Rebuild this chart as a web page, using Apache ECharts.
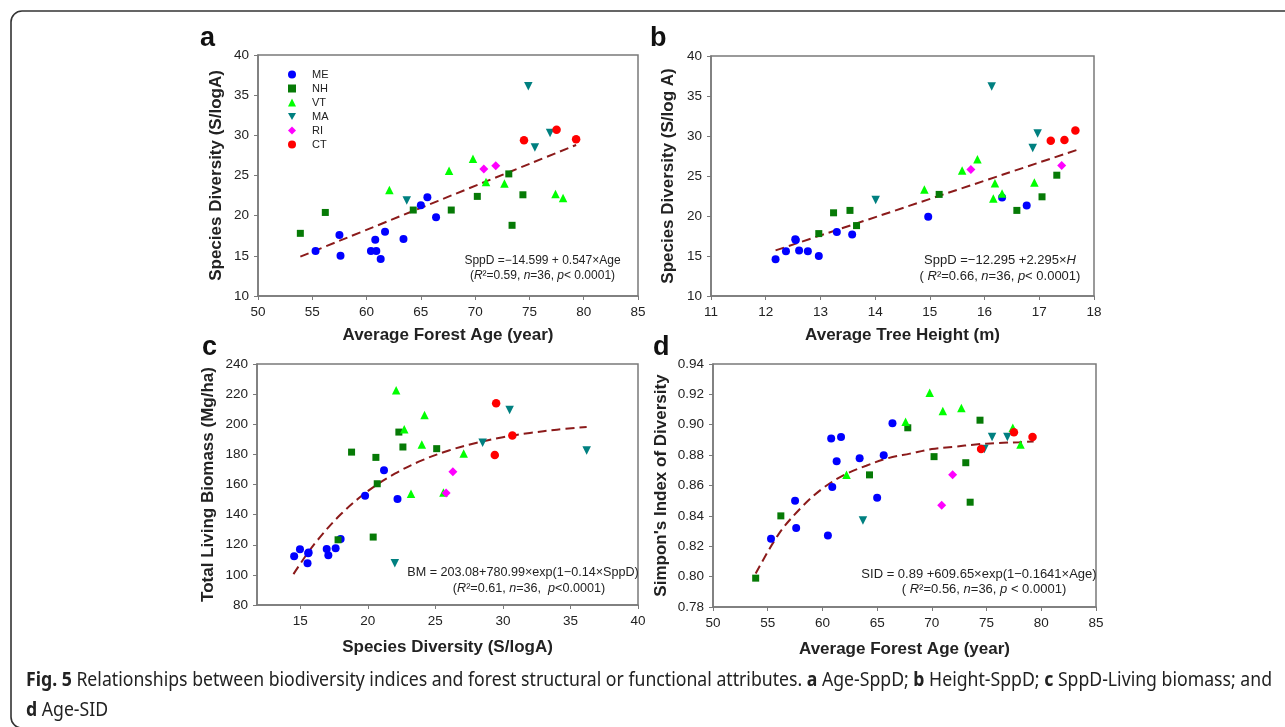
<!DOCTYPE html>
<html><head><meta charset="utf-8">
<script src="https://cdn.jsdelivr.net/npm/echarts@6/dist/echarts.min.js"></script>
<style>html,body{margin:0;padding:0;background:#fff;} #c{width:1285px;height:727px;}</style>
</head><body><div id="c"></div>
<script>
// ---------- categories ----------
const STATES = ['ME', 'NH', 'VT', 'MA', 'RI', 'CT'];

// ---------- panel a: average forest age (x) vs species diversity SppD (y) ----------
const aME = [[55.3,15.6],[57.5,17.6],[57.6,15.0],[60.4,15.6],[60.9,15.6],[60.8,17.0],[61.3,14.6],[61.7,18.0],[63.4,17.1],[65.0,21.3],[65.6,22.3],[66.4,19.8]];
const aNH = [[53.9,17.8],[56.2,20.4],[64.3,20.7],[67.8,20.7],[70.2,22.4],[73.1,25.2],[73.4,18.8],[74.4,22.6]];
const aVT = [[62.1,23.2],[67.6,25.6],[69.8,27.1],[71.0,24.2],[72.7,24.0],[77.4,22.7],[78.1,22.2]];
const aMA = [[63.7,21.9],[74.9,36.1],[75.5,28.5],[76.9,30.3]];
const aRI = [[70.8,25.8],[71.9,26.2]];
const aCT = [[74.5,29.4],[77.5,30.7],[79.3,29.5]];
const aFit = [[53.9,14.9],[79.3,28.8]];

// ---------- panel b: average tree height (x) vs SppD (y) ----------
const bME = [[12.18,14.6],[12.37,15.6],[12.54,17.1],[12.55,17.0],[12.61,15.7],[12.77,15.6],[12.97,15.0],[13.3,18.0],[13.58,17.7],[14.97,19.9],[16.32,22.3],[16.77,21.3]];
const bNH = [[12.97,17.8],[13.24,20.4],[13.54,20.7],[13.66,18.8],[15.17,22.7],[16.59,20.7],[17.05,22.4],[17.32,25.1]];
const bVT = [[14.9,23.3],[15.59,25.7],[15.87,27.1],[16.16,22.2],[16.19,24.1],[16.32,22.8],[16.91,24.2]];
const bMA = [[14.01,22.0],[16.13,36.2],[16.88,28.5],[16.97,30.3]];
const bRI = [[15.75,25.8],[17.41,26.3]];
const bCT = [[17.21,29.4],[17.46,29.5],[17.66,30.7]];
const bFit = [[12.18,15.7],[17.75,28.4]];

// ---------- panel c: SppD (x) vs total living biomass (y) ----------
const cME = [[14.55,112.3],[14.98,117.0],[15.59,114.3],[15.62,114.8],[15.54,107.7],[16.96,117.2],[17.08,113.0],[17.62,117.6],[17.99,123.8],[19.8,152.6],[21.2,169.4],[22.2,150.4]];
const cNH = [[17.8,123.3],[18.8,181.5],[20.4,125.1],[20.6,178.0],[20.7,160.5],[22.3,194.8],[22.6,184.9],[25.1,183.8]];
const cVT = [[22.1,222.5],[22.7,196.6],[23.2,153.9],[24.0,186.6],[24.2,206.1],[25.6,154.7],[27.1,180.5]];
const cMA = [[22.0,107.7],[28.5,187.8],[30.5,209.5],[36.2,182.5]];
const cRI = [[25.8,154.3],[26.3,168.5]];
const cCT = [[29.5,213.9],[29.4,179.6],[30.7,192.6]];
const cFit = [[14.5,100.5],[16,119.9],[18,140.2],[20,155.6],[22,167.2],[24,176.0],[26,182.6],[28,187.6],[30,191.4],[32,194.2],[34,196.4],[36.2,198.2]];

// ---------- panel d: average forest age (x) vs Simpson's index (y) ----------
const dME = [[55.3,0.825],[57.5,0.850],[57.6,0.832],[60.5,0.827],[60.8,0.891],[60.9,0.859],[61.3,0.876],[61.7,0.892],[63.4,0.878],[65.0,0.852],[65.6,0.880],[66.4,0.901]];
const dNH = [[53.9,0.799],[56.2,0.840],[64.3,0.867],[67.8,0.898],[70.2,0.879],[73.1,0.875],[73.5,0.849],[74.4,0.903]];
const dVT = [[62.2,0.867],[67.6,0.902],[69.8,0.921],[71.0,0.909],[72.7,0.911],[77.4,0.898],[78.1,0.887]];
const dMA = [[63.7,0.837],[74.8,0.884],[75.5,0.892],[76.9,0.892]];
const dRI = [[70.9,0.847],[71.9,0.867]];
const dCT = [[74.5,0.884],[77.5,0.895],[79.2,0.892]];
const dFit = [[53.9,0.802],[56,0.828],[58,0.845],[60,0.858],[62,0.867],[64,0.873],[66,0.878],[68,0.881],[70,0.884],[72,0.8855],[74,0.887],[76,0.888],[78,0.8885],[79.3,0.889]];

// ---------- tick labels (panel c x) ----------
const cXTicks = [15, 20, 25, 30, 35, 40];

// ---------- texts ----------
const TITLES = {
  ax: 'Average Forest Age (year)', ay: 'Species Diversity (S/logA)',
  bx: 'Average Tree Height (m)', by: 'Species Diversity (S/log A)',
  cx: 'Species Diversity (S/logA)', cy: 'Total Living Biomass (Mg/ha)',
  dx: 'Average Forest Age (year)', dy: "Simpon's Index of Diversity"
};
const EQ = {
  a1: 'SppD =\u221214.599 + 0.547\u00d7Age', a2: '({i|R}\u00b2=0.59, {i|n}=36, {i|p}< 0.0001)',
  b1: 'SppD =\u221212.295 +2.295\u00d7{i|H}', b2: '( {i|R}\u00b2=0.66, {i|n}=36, {i|p}< 0.0001)',
  c1: 'BM = 203.08+780.99\u00d7exp(1\u22120.14\u00d7SppD)', c2: '({i|R}\u00b2=0.61, {i|n}=36,  {i|p}<0.0001)',
  d1: 'SID = 0.89 +609.65\u00d7exp(1\u22120.1641\u00d7Age)', d2: '( {i|R}\u00b2=0.56, {i|n}=36, {i|p} < 0.0001)'
};
const CAP1 = [['b','Fig. 5'],['r',' Relationships between biodiversity indices and forest structural or functional attributes. '],['b','a'],['r',' Age-SppD; '],['b','b'],['r',' Height-SppD; '],['b','c'],['r',' SppD-Living biomass; and']];
const CAP2 = [['b','d'],['r',' Age-SID']];

// ---------- styles ----------
const FONT = '"Liberation Sans", Arial, sans-serif';
const CAPF = '"Noto Sans", sans-serif';
const CAPSIZE = 20;
const AXC = '#7a7a7a';
const STYLE = {
  ME: {symbol:'circle', color:'#0000ff', size:8, rot:0},
  NH: {symbol:'rect', color:'#067a06', size:7, rot:0},
  VT: {symbol:'triangle', color:'#00ff00', size:8.5, rot:0},
  MA: {symbol:'triangle', color:'#008080', size:8.5, rot:180},
  RI: {symbol:'diamond', color:'#ff00ff', size:9, rot:0},
  CT: {symbol:'circle', color:'#ff0000', size:8.5, rot:0}
};
const PANEL_DATA = [
  {ME:aME, NH:aNH, VT:aVT, MA:aMA, RI:aRI, CT:aCT, fit:aFit},
  {ME:bME, NH:bNH, VT:bVT, MA:bMA, RI:bRI, CT:bCT, fit:bFit},
  {ME:cME, NH:cNH, VT:cVT, MA:cMA, RI:cRI, CT:cCT, fit:cFit},
  {ME:dME, NH:dNH, VT:dVT, MA:dMA, RI:dRI, CT:dCT, fit:dFit}
];

function axisBase(extra) {
  return Object.assign({
    type: 'value',
    axisLine: {show: true, onZero: false, lineStyle: {color: AXC, width: 1.5}},
    axisTick: {show: true, inside: false, length: 4, lineStyle: {color: AXC, width: 1}},
    axisLabel: {color: '#222', fontSize: 13.5, fontFamily: FONT, margin: 9, showMinLabel: true, showMaxLabel: true},
    splitLine: {show: false},
    nameLocation: 'middle',
    nameTextStyle: {fontWeight: 'bold', fontSize: 17, fontFamily: FONT, color: '#222'}
  }, extra);
}

const grids = [
  {left: 258, top: 55, width: 380, height: 241},
  {left: 711, top: 56, width: 383, height: 240},
  {left: 257, top: 364, width: 381, height: 241},
  {left: 713, top: 364, width: 383, height: 243}
].map(g => Object.assign({show: true, borderColor: AXC, borderWidth: 1.5, backgroundColor: 'transparent'}, g));

const xAxes = [
  axisBase({gridIndex: 0, min: 50, max: 85, interval: 5, name: TITLES.ax, nameGap: 31}),
  axisBase({gridIndex: 1, min: 11, max: 18, interval: 1, name: TITLES.bx, nameGap: 31}),
  axisBase({gridIndex: 2, min: 11.8, max: 40, name: TITLES.cx, nameGap: 34,
    axisLabel: {color: '#222', fontSize: 13.5, fontFamily: FONT, margin: 9, customValues: cXTicks},
    axisTick: {show: true, inside: false, length: 4, lineStyle: {color: AXC, width: 1}, customValues: cXTicks}}),
  axisBase({gridIndex: 3, min: 50, max: 85, interval: 5, name: TITLES.dx, nameGap: 34})
];
const yAxes = [
  axisBase({gridIndex: 0, min: 10, max: 40, interval: 5, name: TITLES.ay, nameGap: 33}),
  axisBase({gridIndex: 1, min: 10, max: 40, interval: 5, name: TITLES.by, nameGap: 34}),
  axisBase({gridIndex: 2, min: 80, max: 240, interval: 20, name: TITLES.cy, nameGap: 40}),
  axisBase({gridIndex: 3, min: 0.78, max: 0.94, interval: 0.02, name: TITLES.dy, nameGap: 43,
    axisLabel: {color: '#222', fontSize: 13.5, fontFamily: FONT, margin: 9, showMinLabel: true, showMaxLabel: true,
      formatter: v => v.toFixed(2)}})
];

const series = [];
PANEL_DATA.forEach((p, gi) => {
  series.push({
    type: 'line', xAxisIndex: gi, yAxisIndex: gi, data: p.fit, smooth: 0.35,
    showSymbol: false, symbol: 'none', silent: true, z: 2,
    lineStyle: {color: '#8b1a1a', width: 2, type: [9, 5]}
  });
  STATES.forEach(s => {
    const st = STYLE[s];
    series.push({
      type: 'scatter', name: s, xAxisIndex: gi, yAxisIndex: gi, data: p[s],
      symbol: st.symbol, symbolSize: st.size, symbolRotate: st.rot, z: 3,
      itemStyle: {color: st.color, opacity: 1}
    });
  });
});

// caption scale computed from text measurement so the first line spans the same width as the reference
function measure(parts) {
  const ctx = document.createElement('canvas').getContext('2d');
  let w = 0;
  parts.forEach(p => { ctx.font = (p[0] === 'b' ? 'bold ' : '') + CAPSIZE + 'px ' + CAPF; w += ctx.measureText(p[1]).width; });
  return w;
}
const capScale = 1246 / measure(CAP1);
const capRich = {b: {fontWeight: 'bold', fontSize: CAPSIZE, fontFamily: CAPF}, r: {fontSize: CAPSIZE, fontFamily: CAPF}};
const toRich = parts => parts.map(p => '{' + p[0] + '|' + p[1] + '}').join('');

function eqText(x, y, txt, fs) {
  return {type: 'text', x: x, y: y, z: 10, style: {text: txt, fill: '#222', fontSize: fs, fontFamily: FONT,
    align: 'center', verticalAlign: 'middle', rich: {i: {fontStyle: 'italic', fontSize: fs, fontFamily: FONT}}}};
}
function letter(x, y, t) {
  return {type: 'text', x: x, y: y, z: 10, style: {text: t, fill: '#111', fontSize: 27, fontWeight: 'bold', fontFamily: FONT, align: 'left', verticalAlign: 'middle'}};
}

const graphic = [
  {type: 'rect', z: 0, shape: {x: 11, y: 11, width: 1300, height: 717, r: 11}, style: {fill: 'none', stroke: '#333', lineWidth: 1.6}},
  letter(200, 38.5, 'a'), letter(650, 38.5, 'b'), letter(202, 347.5, 'c'), letter(653, 347.5, 'd'),
  eqText(542.5, 261, EQ.a1, 12), eqText(542.5, 276, EQ.a2, 12),
  eqText(1000, 260, EQ.b1, 13), eqText(1000, 276, EQ.b2, 13),
  eqText(523, 573, EQ.c1, 12.6), eqText(529, 588.5, EQ.c2, 12.6),
  eqText(979, 574, EQ.d1, 13), eqText(984, 589.5, EQ.d2, 13),
  {type: 'text', x: 26, y: 680.5, scaleX: capScale, z: 10, style: {text: toRich(CAP1), rich: capRich, fill: '#222', fontSize: CAPSIZE, fontFamily: CAPF, align: 'left', verticalAlign: 'middle'}},
  {type: 'text', x: 26, y: 710, scaleX: capScale, z: 10, style: {text: toRich(CAP2), rich: capRich, fill: '#222', fontSize: CAPSIZE, fontFamily: CAPF, align: 'left', verticalAlign: 'middle'}}
];

const chart = echarts.init(document.getElementById('c'), null, {renderer: 'canvas'});
chart.setOption({
  animation: false,
  backgroundColor: '#fff',
  textStyle: {fontFamily: FONT},
  grid: grids,
  xAxis: xAxes,
  yAxis: yAxes,
  legend: {
    show: true, orient: 'vertical', left: 288, top: 69, padding: 0, itemWidth: 8, itemHeight: 8, itemGap: 3,
    selectedMode: false,
    data: STATES.map(s => s === 'MA' ? {name: s, icon: 'path://M0,0 L10,0 L5,9 Z'} : s),
    textStyle: {fontSize: 11, lineHeight: 11, fontFamily: FONT, color: '#222', padding: [0, 0, 0, 11]}
  },
  series: series,
  graphic: graphic
});
</script></body></html>
